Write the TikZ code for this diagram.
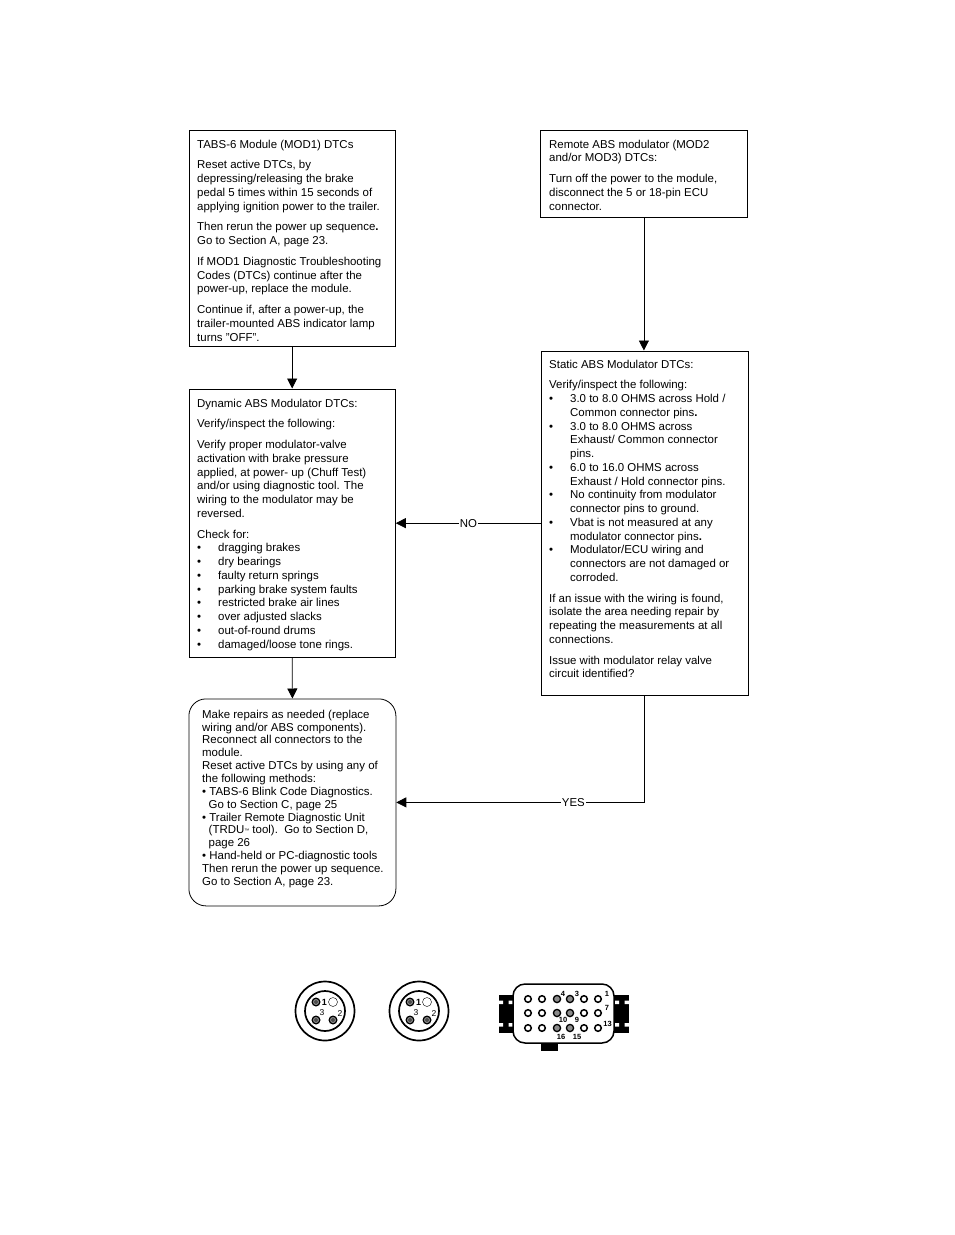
\documentclass[tikz,border=0pt]{standalone}
\usepackage{fontspec}
\setmainfont{Liberation Sans}
\usetikzlibrary{arrows.meta,calc}
\tikzset{
  x=1pt,y=-1pt,
  box/.style={draw=black,line width=0.8pt,anchor=north west,inner sep=0pt},
  txt/.style={anchor=north west,inner sep=0pt,align=left,font=\fontsize{11.45}{13.75}\selectfont},
  arr/.style={draw=black,line width=0.8pt,-{Triangle[length=10pt,width=10pt]}},
  lab/.style={fill=white,inner sep=1pt,font=\fontsize{11.45}{13}\selectfont},
  pin/.style={font=\fontsize{7.5}{7.5}\selectfont\bfseries,inner sep=0pt},
  ring/.style={draw=black,line width=1.7pt},
  ecupin/.style={draw=black,line width=1.5pt,fill=white},
  ecuhot/.style={draw=black,line width=1.3pt,fill=gray!90},
  roundpin/.style={draw=black,line width=1.3pt,fill=gray!80},
}
\newcommand{\bl}{\makebox[21pt][l]{•}}
\newcommand{\ind}{\hspace*{21pt}}
\begin{document}
\begin{tikzpicture}
\useasboundingbox[fill=white] (0,0) rectangle (954,1235);
% boxes
\node[box,minimum width=206.5pt,minimum height=216.5pt] (a) at (188.5,129.5) {};
\node[box,minimum width=207pt,minimum height=87.5pt] (b) at (540,129.5) {};
\node[box,minimum width=207pt,minimum height=344.5pt] (c) at (541,350.5) {};
\node[box,minimum width=206.5pt,minimum height=268.5pt] (d) at (188.5,388.5) {};
\node[box,rounded corners=17pt,minimum width=207pt,minimum height=207pt] (e) at (188.5,698.5) {};
% texts
\node[txt] (ta) at ($(a.north west)+(8.5,10.2)$) {TABS-6 Module (MOD1) DTCs\\[7pt]
Reset active DTCs, by\\depressing/releasing the brake\\pedal 5 times within 15 seconds of\\applying ignition power to the trailer.\\[7pt]
Then rerun the power up sequence\textbf{.}\\Go to Section A, page 23.\\[7pt]
If MOD1 Diagnostic Troubleshooting\\Codes (DTCs) continue after the\\power-up, replace the module.\\[7pt]
Continue if, after a power-up, the\\trailer-mounted ABS indicator lamp\\turns "OFF".};
\node[txt] (tb) at ($(b.north west)+(9,10.2)$) {Remote ABS modulator (MOD2\\and/or MOD3) DTCs:\\[7pt]
Turn off the power to the module,\\disconnect the 5 or 18-pin ECU\\connector.};
\node[txt] (tc) at ($(c.north west)+(8,9.2)$) {Static ABS Modulator DTCs:\\[7pt]
Verify/inspect the following:\\
\bl 3.0 to 8.0 OHMS across Hold /\\\ind Common connector pins\textbf{.}\\
\bl 3.0 to 8.0 OHMS across\\\ind Exhaust/ Common connector\\\ind pins.\\
\bl 6.0 to 16.0 OHMS across\\\ind Exhaust / Hold connector pins.\\
\bl No continuity from modulator\\\ind connector pins to ground.\\
\bl Vbat is not measured at any\\\ind modulator connector pins\textbf{.}\\
\bl Modulator/ECU wiring and\\\ind connectors are not damaged or\\\ind corroded.\\[7pt]
If an issue with the wiring is found,\\isolate the area needing repair by\\repeating the measurements at all\\connections.\\[7pt]
Issue with modulator relay valve\\circuit identified?};
\node[txt] (td) at ($(d.north west)+(8.5,10.2)$) {Dynamic ABS Modulator DTCs:\\[7pt]
Verify/inspect the following:\\[7pt]
Verify proper modulator-valve\\activation with brake pressure\\applied, at power- up (Chuff Test)\\and/or using diagnostic tool. The\\wiring to the modulator may be\\reversed.\\[7pt]
Check for:\\
\bl dragging brakes\\\bl dry bearings\\\bl faulty return springs\\\bl parking brake system faults\\\bl restricted brake air lines\\\bl over adjusted slacks\\\bl out-of-round drums\\\bl damaged/loose tone rings.};
\node[txt,font=\fontsize{11.45}{12.85}\selectfont] (te) at ($(e.north west)+(13.5,11.2)$) {Make repairs as needed (replace\\wiring and/or ABS components).\\Reconnect all connectors to the\\module.\\Reset active DTCs by using any of\\the following methods:\\
• TABS-6 Blink Code Diagnostics.\\\hspace*{6.5pt}Go to Section C, page 25\\
• Trailer Remote Diagnostic Unit\\\hspace*{6.5pt}(TRDU{\fontsize{5}{5}\selectfont\raisebox{1.5pt}{™}} tool).\ \ Go to Section D,\\\hspace*{6.5pt}page 26\\
• Hand-held or PC-diagnostic tools\\Then rerun the power up sequence.\\Go to Section A, page 23.};
% connectors
\draw[arr] (a.south) -- (d.north);
\draw[arr] (d.south) -- (e.north);
\draw[arr] (b.south) -- (b.south |- c.north);
\draw[arr] (c.west) -- node[lab,pos=0.5] (no) {NO} (d.east);
\draw[arr] (b.south |- c.south) -- (b.south |- e.east) -- node[lab,pos=0.285] (yes) {YES} (e.east);
% round connectors
\foreach \cx in {325,419}{
  \begin{scope}[shift={(\cx,1011)}]
    \draw[ring] (0,0) circle (29.5);
    \draw[ring] (0,0) circle (20);
    \draw[roundpin] (-9,-9) circle (3.8);
    \fill[black!70] (-9,-9) circle (2);
    \draw[draw=black,line width=0.4pt,fill=white] (8,-9) circle (4.5);
    \draw[roundpin] (-9,9) circle (3.8);
    \fill[black!70] (-9,9) circle (2);
    \draw[roundpin] (8,9) circle (3.8);
    \fill[black!70] (8,9) circle (2);
    \node[pin,font=\fontsize{9}{9}\selectfont\bfseries] at (-0.5,-9) {1};
    \node[pin,font=\fontsize{8.5}{8.5}\selectfont] at (-3,2) {3};
    \node[pin,font=\fontsize{8.5}{8.5}\selectfont] at (15,3) {2};
  \end{scope}
}
% ECU connector
\fill[black] (499,994.5) rectangle (514,1033);
\fill[black] (613,994.5) rectangle (629,1033);
\fill[white] (499,1000.5) rectangle (503,1004) (508.5,1000.5) rectangle (514,1004) (499,1023) rectangle (503,1026.5) (508.5,1023) rectangle (514,1026.5);
\fill[white] (613,1000.5) rectangle (619,1004) (624.5,1000.5) rectangle (629,1004) (613,1023) rectangle (619,1026.5) (624.5,1023) rectangle (629,1026.5);
\fill[black] (541,1042) rectangle (558,1051);
\draw[draw=black,line width=1.5pt,fill=white,rounded corners=12pt] (513,984) rectangle (614,1043);
\foreach \y in {999,1013,1028}{
  \foreach \x in {528,542,584,598} \draw[ecupin] (\x,\y) circle (3.3);
  \foreach \x in {557,570} \draw[ecuhot] (\x,\y) circle (3.6);
}
\foreach \x/\y/\t in {563/994/4,577/994/3,607/994/1,607/1008/7,607.5/1024/13,563/1020/10,577/1020/9,561/1037/16,577/1037/15}
  \node[pin] at (\x,\y) {\t};
\end{tikzpicture}
\end{document}
